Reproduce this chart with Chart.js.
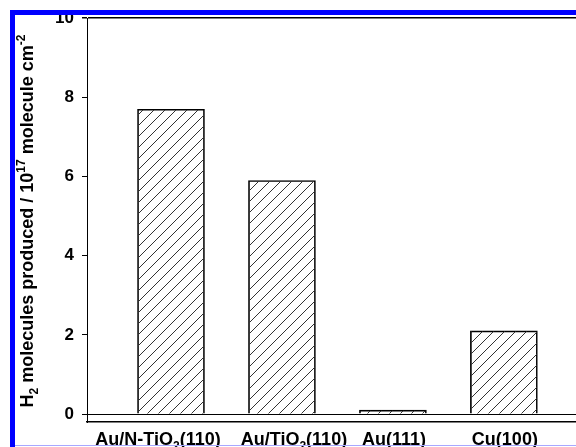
<!DOCTYPE html>
<html lang="en">
<head>
    <meta charset="UTF-8">
    <title>H2 production</title>
    <script src="https://cdn.jsdelivr.net/npm/chart.js"></script>
    <style>
        body { margin: 0; background: #fff; }
        #wrap { position: relative; width: 576px; height: 447px; }
    </style>
</head>
<body>
    <div id="wrap"><canvas id="barChart"></canvas></div>

    <script>
        // data
        const categories = ['Au/N-TiO_{2}(110)', 'Au/TiO_{2}(110)', 'Au(111)', 'Cu(100)'];
        const positions = [1, 2, 3, 4];
        const h2Values = [7.7, 5.9, 0.1, 2.1];
        const yTicks = [0, 2, 4, 6, 8, 10];
        const yTitle = 'H_{2} molecules produced / 10^{17} molecule cm^{-2}';

        const FONT = 'Arial, "Liberation Sans", sans-serif';

        // small parser for _{sub} and ^{sup}
        function parseRich(str) {
            const parts = [];
            const re = /([_^])\{([^}]*)\}/g;
            let last = 0, m;
            while ((m = re.exec(str)) !== null) {
                if (m.index > last) parts.push({ t: str.slice(last, m.index), k: 'n' });
                parts.push({ t: m[2], k: m[1] === '_' ? 'sub' : 'sup' });
                last = re.lastIndex;
            }
            if (last < str.length) parts.push({ t: str.slice(last), k: 'n' });
            return parts;
        }

        function drawRich(ctx, str, x, y, size, align) {
            const parts = parseRich(str);
            const fontFor = k => 'bold ' + (k === 'n' ? size : Math.round(size * 0.68)) + 'px ' + FONT;
            let total = 0;
            parts.forEach(p => { ctx.font = fontFor(p.k); p.w = ctx.measureText(p.t).width; total += p.w; });
            let cx = align === 'center' ? x - total / 2 : x;
            ctx.textAlign = 'left';
            ctx.textBaseline = 'alphabetic';
            parts.forEach(p => {
                ctx.font = fontFor(p.k);
                let dy = 0;
                if (p.k === 'sub') dy = size * 0.28;
                if (p.k === 'sup') dy = -size * 0.42;
                ctx.fillText(p.t, cx, y + dy);
                cx += p.w;
            });
        }

        // diagonal hatch
        function hatch() {
            const s = 11;
            const c = document.createElement('canvas');
            c.width = s; c.height = s;
            const g = c.getContext('2d');
            g.strokeStyle = '#333';
            g.lineWidth = 1;
            g.beginPath();
            g.moveTo(0, s); g.lineTo(s, 0);
            g.moveTo(-s / 2, s / 2); g.lineTo(s / 2, -s / 2);
            g.moveTo(s / 2, s + s / 2); g.lineTo(s + s / 2, s / 2);
            g.stroke();
            return g.createPattern(c, 'repeat');
        }

        const labelShift = [-13, 12, 1, 1];

        const decor = {
            id: 'decor',
            afterDraw(chart) {
                const ctx = chart.ctx;
                const xs = chart.scales.x;
                ctx.save();
                ctx.fillStyle = '#000';
                categories.forEach((c, i) => {
                    drawRich(ctx, c, xs.getPixelForValue(positions[i]) + labelShift[i], 445, 18, 'center');
                });
                // rotated axis title
                ctx.translate(33, 221);
                ctx.rotate(-Math.PI / 2);
                drawRich(ctx, yTitle, 0, 0, 18, 'center');
                ctx.restore();

                // blue frame
                ctx.save();
                ctx.fillStyle = '#0000ff';
                ctx.fillRect(10, 10, chart.width - 10, 5);
                ctx.fillRect(10, 10, 5, chart.height - 10);
                ctx.fillStyle = '#a8a8ff';
                ctx.fillRect(15, 445, chart.width - 15, 1);
                ctx.restore();
            }
        };

        new Chart(document.getElementById('barChart'), {
            type: 'bar',
            data: {
                datasets: [{
                    data: h2Values.map((v, i) => ({ x: positions[i], y: v })),
                    backgroundColor: hatch(),
                    borderColor: '#000',
                    borderWidth: 1,
                    barThickness: 67
                }]
            },
            options: {
                responsive: true,
                maintainAspectRatio: false,
                animation: false,
                layout: { padding: { top: 17, bottom: 17, right: 0, left: 0 } },
                plugins: { legend: { display: false }, tooltip: { enabled: false } },
                scales: {
                    x: {
                        type: 'linear',
                        min: 0.243,
                        max: 4.65,
                        offset: false,
                        grid: { display: false },
                        border: { display: true, color: '#000', width: 1.5 },
                        ticks: { display: false }
                    },
                    y: {
                        min: -0.2,
                        max: 10,
                        afterBuildTicks: s => { s.ticks = yTicks.map(v => ({ value: v })); },
                        afterFit: s => { s.width = 87; },
                        grid: {
                            drawOnChartArea: true,
                            color: c => (c.tick && (c.tick.value === 0 || c.tick.value === 10)) ? '#000' : 'rgba(0,0,0,0)',
                            lineWidth: c => (c.tick && c.tick.value === 10) ? 1.5 : 1,
                            tickColor: '#000',
                            tickLength: 5
                        },
                        border: { display: true, color: '#000', width: 1 },
                        ticks: {
                            color: '#000',
                            padding: 8,
                            font: { family: FONT, size: 17, weight: 'bold' }
                        }
                    }
                }
            },
            plugins: [decor]
        });
    </script>
</body>
</html>
